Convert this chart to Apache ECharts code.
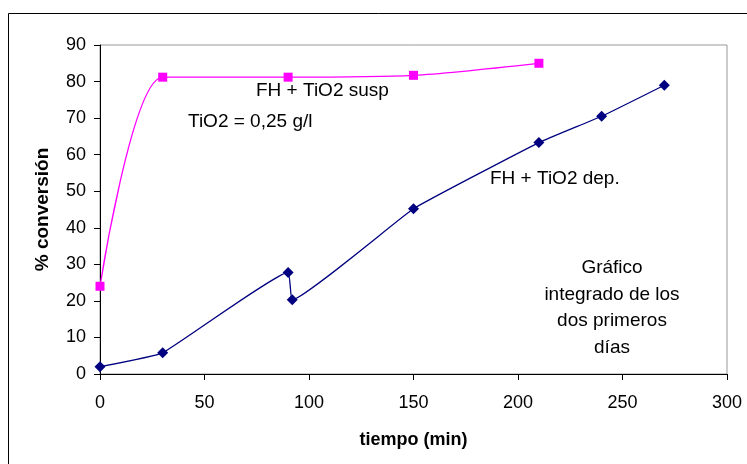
<!DOCTYPE html>
<html><head><meta charset="utf-8">
<script src="https://cdn.jsdelivr.net/npm/echarts@6/dist/echarts.min.js"></script>
<style>html,body{margin:0;padding:0;background:#fff}#c{width:747px;height:464px}</style>
</head><body><div id="c"></div>
<script>
var suspX = [0, 30, 90, 150, 210];
var suspY = [24, 81.2, 81.2, 81.7, 85];
var depX = [0, 30, 90, 92, 150, 210, 240, 270];
var depY = [2, 5.8, 27.8, 20.3, 45.2, 63.3, 70.5, 79];
var xTicks = [0, 50, 100, 150, 200, 250, 300];
var yTicks = [0, 10, 20, 30, 40, 50, 60, 70, 80, 90];
function pairs(xs, ys){ return xs.map(function(x,i){return [x, ys[i]];}); }
var F = 'Liberation Sans, Arial, sans-serif';
var chart = echarts.init(document.getElementById('c'));
chart.setOption({
  animation: false,
  grid: {left: 100, right: 20, top: 45, bottom: 90, show: true, borderColor: '#999', borderWidth: 1, backgroundColor: 'transparent'},
  xAxis: {type: 'value', min: 0, max: 300, interval: 50,
    name: 'tiempo (min)', nameLocation: 'middle', nameGap: 57,
    nameTextStyle: {fontFamily: F, fontSize: 18, fontWeight: 'bold', color: '#000'},
    axisLine: {show: true, lineStyle: {color: '#000', width: 1}},
    axisTick: {show: true, length: 6, lineStyle: {color: '#000'}},
    axisLabel: {fontFamily: F, fontSize: 18, color: '#000', margin: 20},
    splitLine: {show: false}},
  yAxis: {type: 'value', min: 0, max: 90, interval: 10,
    name: '% conversión', nameLocation: 'middle', nameGap: 48, nameRotate: 90,
    nameTextStyle: {fontFamily: F, fontSize: 19, fontWeight: 'bold', color: '#000'},
    axisLine: {show: true, lineStyle: {color: '#000', width: 1}},
    axisTick: {show: true, length: 6, lineStyle: {color: '#000'}},
    axisLabel: {fontFamily: F, fontSize: 18, color: '#000', margin: 14},
    splitLine: {show: false}},
  series: [
    {type: 'line', data: pairs(suspX, suspY), smooth: 0.25, symbol: 'rect', symbolSize: 9,
     lineStyle: {color: '#ff00ff', width: 1.3}, itemStyle: {color: '#ff00ff'}},
    {type: 'line', data: pairs(depX, depY), smooth: 0.1, symbol: 'diamond', symbolSize: 11,
     lineStyle: {color: '#000080', width: 1.3}, itemStyle: {color: '#000080'}}
  ],
  graphic: [
    {type: 'rect', shape: {x: 8.5, y: 13.5, width: 800, height: 500}, style: {fill: 'none', stroke: '#000', lineWidth: 1}},
    {type: 'text', left: 256, top: 81, style: {text: 'FH + TiO2 susp', font: '19px ' + F, fill: '#000'}},
    {type: 'text', left: 188, top: 112, style: {text: 'TiO2 = 0,25 g/l', font: '19px ' + F, fill: '#000'}},
    {type: 'text', left: 490, top: 169, style: {text: 'FH + TiO2 dep.', font: '19px ' + F, fill: '#000'}},
    {type: 'text', x: 612, y: 255, style: {text: 'Gráfico\nintegrado de los\ndos primeros\ndías', font: '19px ' + F, fill: '#000', align: 'center', lineHeight: 26.5}}
  ]
});
</script></body></html>
